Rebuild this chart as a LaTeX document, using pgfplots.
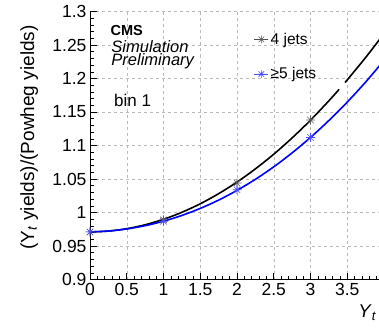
\documentclass[border=0pt]{standalone}
\usepackage{fontspec}
\setmainfont{Liberation Sans}
\usepackage{pgfplots}
\pgfplotsset{compat=1.18}
\pgfdeclareplotmark{rootstar}{%
 \pgfpathmoveto{\pgfqpoint{-\pgfplotmarksize}{0pt}}\pgfpathlineto{\pgfqpoint{\pgfplotmarksize}{0pt}}%
 \pgfpathmoveto{\pgfqpoint{0pt}{-\pgfplotmarksize}}\pgfpathlineto{\pgfqpoint{0pt}{\pgfplotmarksize}}%
 \pgfpathmoveto{\pgfqpoint{-0.707\pgfplotmarksize}{-0.707\pgfplotmarksize}}\pgfpathlineto{\pgfqpoint{0.707\pgfplotmarksize}{0.707\pgfplotmarksize}}%
 \pgfpathmoveto{\pgfqpoint{-0.707\pgfplotmarksize}{0.707\pgfplotmarksize}}\pgfpathlineto{\pgfqpoint{0.707\pgfplotmarksize}{-0.707\pgfplotmarksize}}%
 \pgfusepathqstroke}
\definecolor{rootblue}{RGB}{0,0,255}
\begin{document}
\begin{tikzpicture}
\path[use as bounding box] (0,0) rectangle (379pt,327pt);
\clip (0,0) rectangle (379pt,327pt);
\begin{axis}[
 at={(90pt,47.5pt)}, anchor=south west, scale only axis, width=294pt, height=268pt,
 xmin=0, xmax=4, ymin=0.9, ymax=1.3,
 axis x line*=bottom, axis y line*=left,
 axis line style={-, line width=0.8pt},
 xtick={0,0.5,1,1.5,2,2.5,3,3.5,4},
 ytick={0.9,0.95,1,1.05,1.1,1.15,1.2,1.25,1.3},
 minor x tick num=4, minor y tick num=4,
 tick align=inside, major tick length=7pt, minor tick length=4pt,
 tick style={black, line width=0.6pt},
 grid=major, major grid style={gray!55, line width=0.5pt, dash pattern=on 3pt off 3pt},
 /pgf/number format/assume math mode=true,
 ticklabel style={font=\fontsize{17.5}{17.5}\selectfont},
 yticklabel style={/pgf/number format/fixed, /pgf/number format/precision=2},
 xticklabel style={/pgf/number format/fixed},
 xlabel={\textit{Y}\textsubscript{\textit{t}}},
 x label style={at={(rel axis cs:0.901,0)}, anchor=north west, yshift=-22pt, font=\fontsize{18.5}{18.5}\selectfont},
 ylabel={(Y\textsubscript{\textit{t}} yields)/(Powheg yields)},
 y label style={at={(axis description cs:-0.207,0.53)}, anchor=center, font=\fontsize{19}{19}\selectfont},
 legend style={at={(rel axis cs:0.557,0.928)}, anchor=north west, draw=none, fill=none,
   font=\fontsize{15.5}{15.5}\selectfont, row sep=18pt, inner sep=0pt},
 legend cell align=left,
 legend image code/.code={\draw[mark repeat=2,mark phase=2,#1] plot coordinates {(0pt,0pt) (7pt,0pt) (14pt,0pt)};},
]
% black curve (4 jets), with the small gap near x=3.4
\addplot[black, line width=1.6pt, smooth, forget plot] coordinates {
(0,0.9710)(0.25,0.9723)(0.5,0.9758)(0.75,0.9817)(1,0.9898)(1.25,1.0003)(1.5,1.0130)
(1.75,1.0281)(2,1.0454)(2.25,1.0651)(2.5,1.0870)(2.75,1.1113)(3,1.1378)(3.25,1.1667)(3.39,1.1839)};
\addplot[black, line width=1.6pt, smooth, forget plot] coordinates {
(3.47,1.1940)(3.75,1.2313)(4,1.2670)};
\addplot[only marks, mark=rootstar, mark size=4.5pt, mark options={black!65, line width=0.6pt}, forget plot] coordinates {
(0,0.971)(1,0.989)(2,1.044)(3,1.138)};
% blue curve (>=5 jets)
\addplot[rootblue, line width=1.6pt, smooth, forget plot] coordinates {
(0,0.9710)(0.25,0.9723)(0.5,0.9754)(0.75,0.9803)(1,0.9870)(1.25,0.9956)(1.5,1.0061)
(1.75,1.0185)(2,1.0330)(2.25,1.0495)(2.5,1.0682)(2.75,1.0890)(3,1.1120)(3.25,1.1373)
(3.5,1.1648)(3.75,1.1947)(4,1.2270)};
\addplot[only marks, mark=rootstar, mark size=4.5pt, mark options={rootblue!70, line width=0.6pt}, forget plot] coordinates {
(0,0.971)(1,0.987)(2,1.034)(3,1.112)};
\addlegendimage{black!70, line width=0.7pt, mark=rootstar, mark size=4pt, mark options={black!65, line width=0.6pt}}
\addlegendentry{4 jets}
\addlegendimage{rootblue!70, line width=0.7pt, mark=rootstar, mark size=4pt, mark options={rootblue!70, line width=0.6pt}}
\addlegendentry{≥5 jets}
\node[anchor=base west, font=\bfseries\fontsize{14.5}{14.5}\selectfont] at (rel axis cs:0.058,0.912) {CMS};
\node[anchor=base west, font=\itshape\fontsize{16.5}{16.5}\selectfont] at (rel axis cs:0.061,0.847) {Simulation};
\node[anchor=base west, font=\itshape\fontsize{16.5}{16.5}\selectfont] at (rel axis cs:0.061,0.797) {Preliminary};
\node[anchor=base west, font=\fontsize{17}{17}\selectfont] at (rel axis cs:0.070,0.647) {bin 1};
\end{axis}
\end{tikzpicture}
\end{document}
